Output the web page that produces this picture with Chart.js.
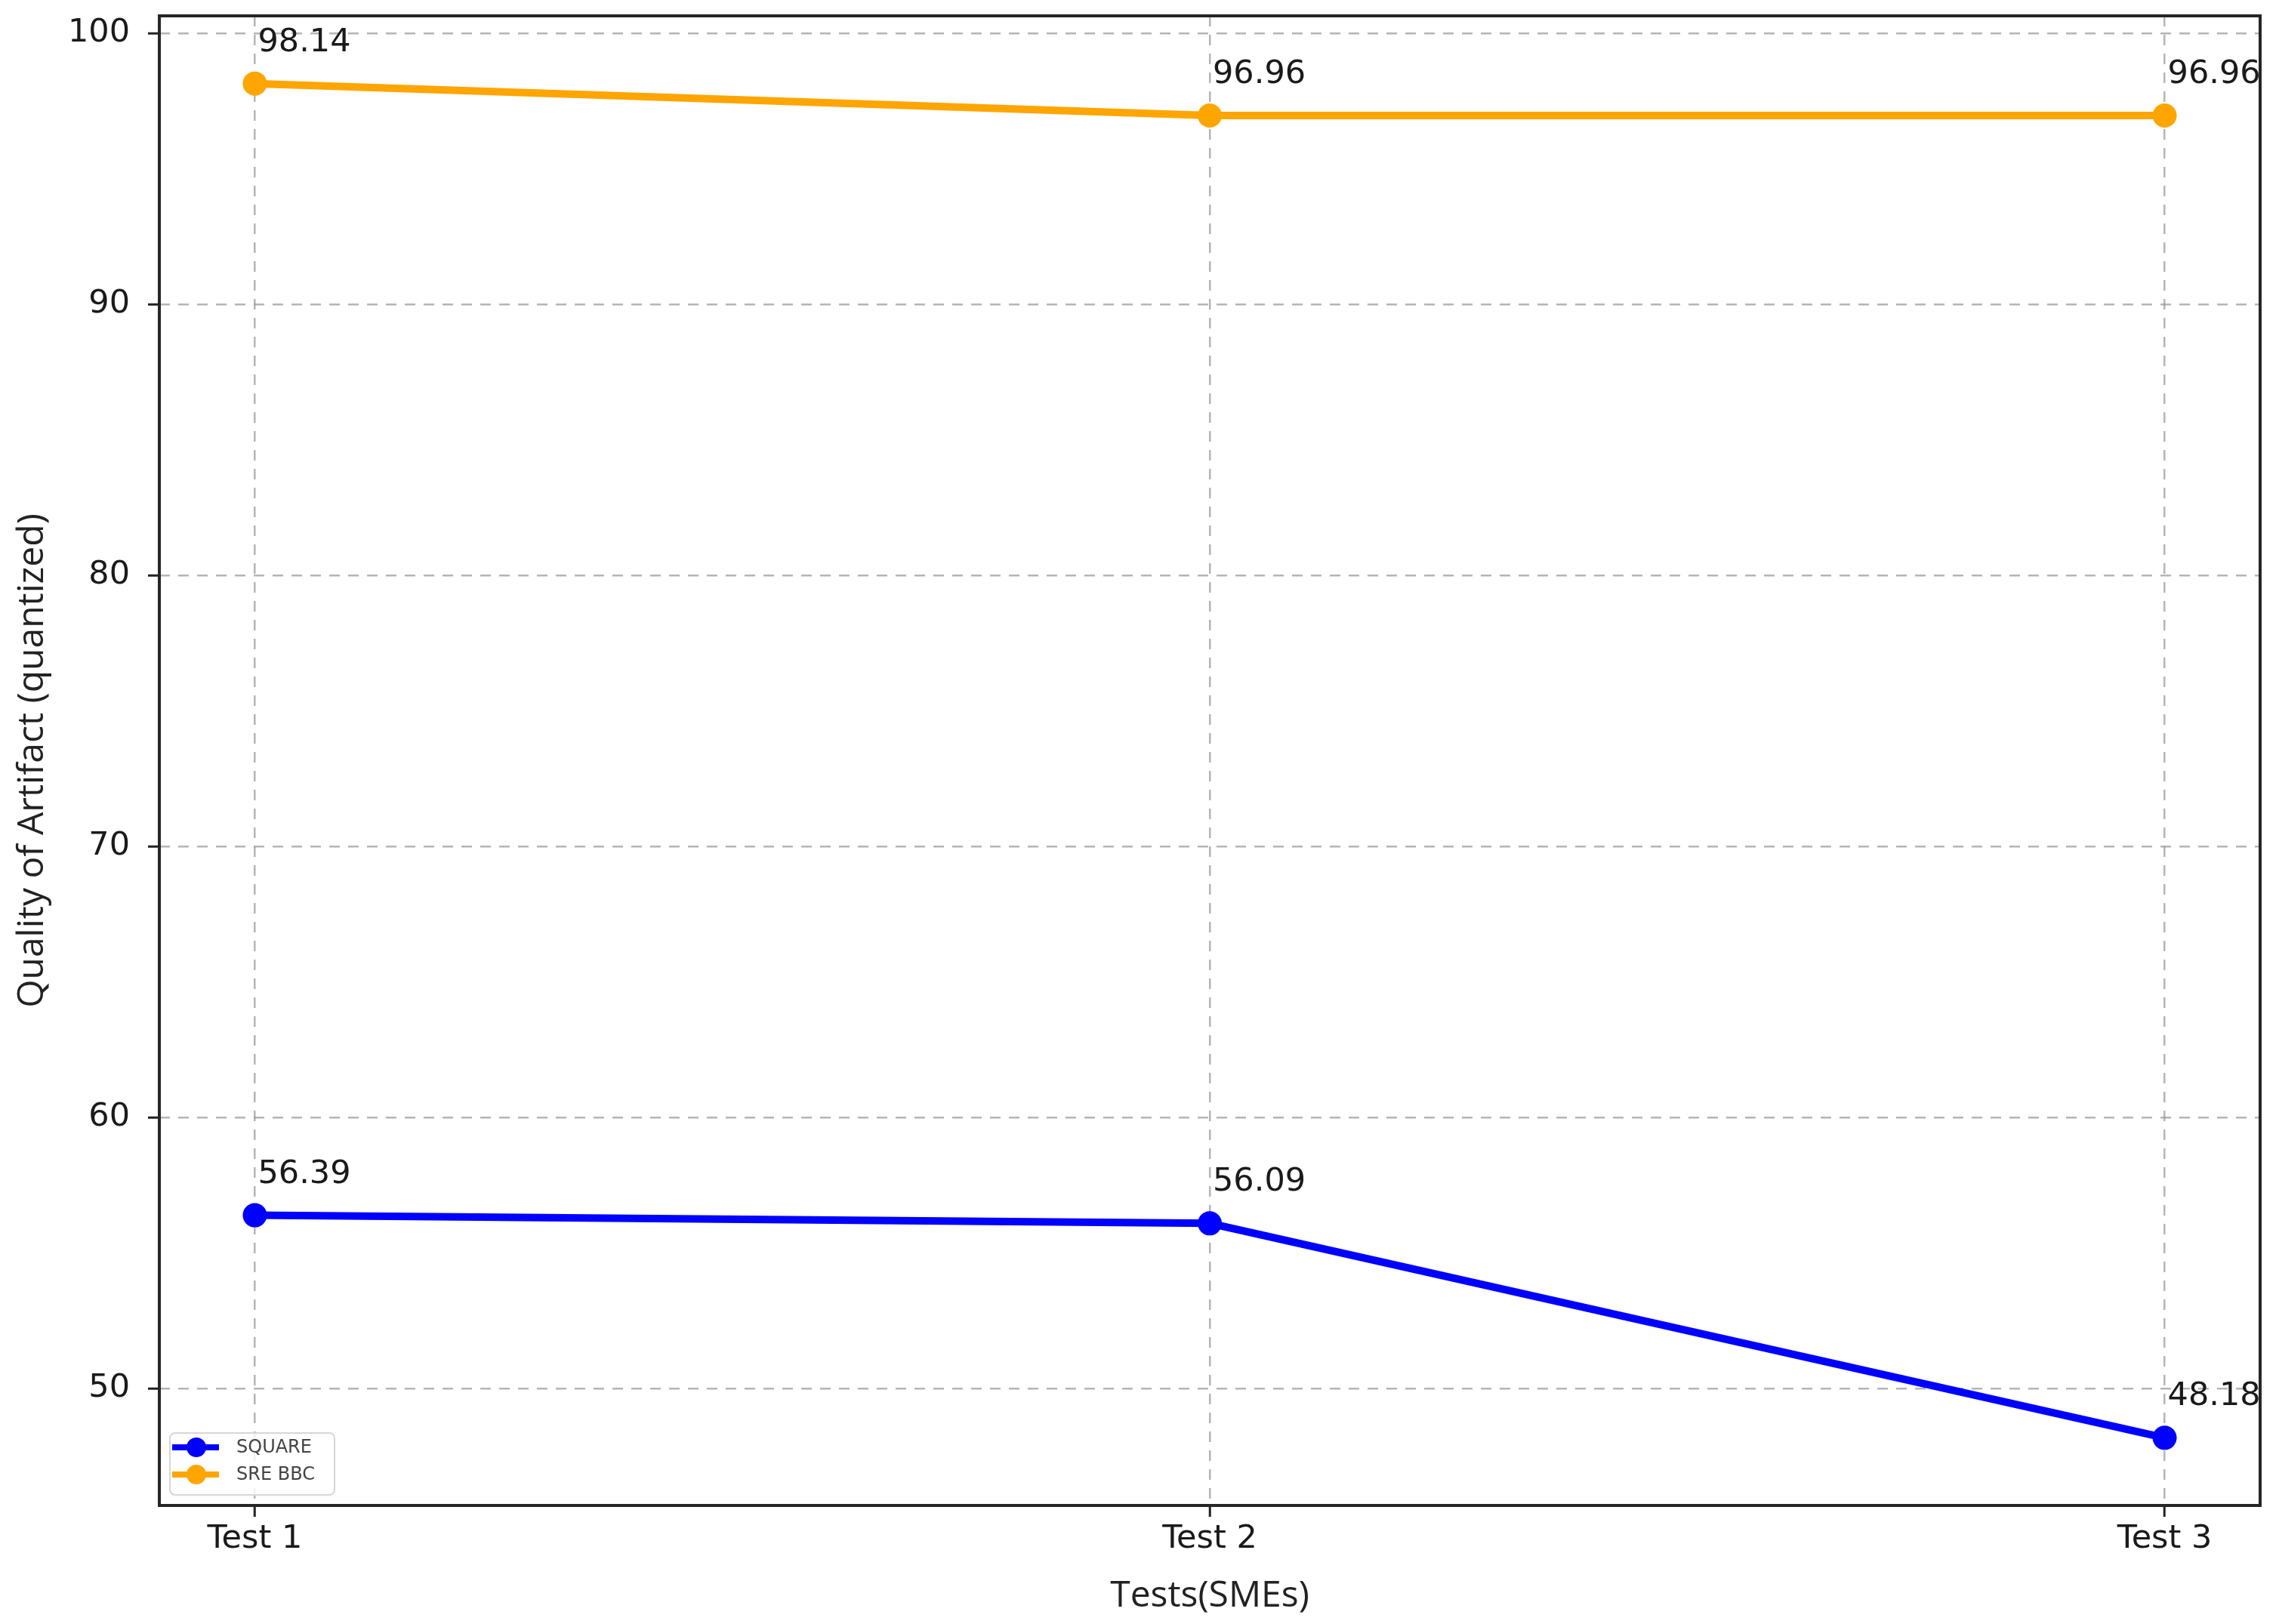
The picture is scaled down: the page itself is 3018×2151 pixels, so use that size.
<!DOCTYPE html>
<html>
<head>
<meta charset="utf-8">
<title>Quality of Artifact</title>
<script src="https://cdn.jsdelivr.net/npm/chart.js@4.4.1/dist/chart.umd.min.js"></script>
<style>
  html, body { margin: 0; padding: 0; background: #fff; }
  canvas { display: block; }
</style>
</head>
<body>
<canvas id="quality" width="3018" height="2151"></canvas>
<script>
// data
var categories = ["Test 1", "Test 2", "Test 3"];
var squareVals = [56.39, 56.09, 48.18];
var sreBbcVals = [98.14, 96.96, 96.96];
var yTicks = [50, 60, 70, 80, 90, 100];
var xTitle = "Tests(SMEs)";
var yTitle = "Quality of Artifact (quantized)";

// matplotlib-style 5% margins around the data
var allVals = squareVals.concat(sreBbcVals);
var lo = Math.min.apply(null, allVals), hi = Math.max.apply(null, allVals);
var pad = (hi - lo) * 0.05;
var xPad = (categories.length - 1) * 0.05;

function toPoints(vals) {
    return vals.map(function (v, i) { return { x: i, y: v }; });
}

var tickFont = { family: "DejaVu Sans", size: 43 };
var titleFont = { family: "Open Sans", size: 48 };
var gridOpts = {
    color: "rgba(150,150,150,0.7)",
    lineWidth: 2.5,
    tickLength: 15,
    tickColor: "#222",
    tickWidth: 3,
    tickBorderDash: [],
};

// value labels above each point
var valueLabels = {
    id: "valueLabels",
    afterDatasetsDraw: function (chart) {
        var ctx = chart.ctx;
        ctx.save();
        ctx.font = "43px 'DejaVu Sans'";
        ctx.fillStyle = "#1a1a1a";
        ctx.textAlign = "left";
        ctx.textBaseline = "alphabetic";
        chart.data.datasets.forEach(function (ds, di) {
            chart.getDatasetMeta(di).data.forEach(function (pt, i) {
                ctx.fillText(ds.data[i].y.toFixed(2), pt.x + 4, pt.y - 43);
            });
        });
        ctx.restore();
    }
};

// box around the plot + small legend in lower left
var frameAndLegend = {
    id: "frameAndLegend",
    afterDraw: function (chart) {
        var ctx = chart.ctx, a = chart.chartArea;
        ctx.save();
        ctx.strokeStyle = "#262626";
        ctx.lineWidth = 4;
        ctx.strokeRect(a.left, a.top, a.right - a.left, a.bottom - a.top);

        var bx = a.left + 14, by = a.bottom - 96, bw = 218, bh = 82;
        ctx.beginPath();
        ctx.roundRect(bx, by, bw, bh, 7);
        ctx.fillStyle = "rgba(255,255,255,0.8)";
        ctx.fill();
        ctx.strokeStyle = "#d6d6d6";
        ctx.lineWidth = 2;
        ctx.stroke();

        ctx.font = "24px 'DejaVu Sans'";
        ctx.textBaseline = "middle";
        chart.data.datasets.forEach(function (ds, i) {
            var cy = by + 19 + i * 36;
            ctx.strokeStyle = ds.borderColor;
            ctx.lineWidth = 8;
            ctx.beginPath();
            ctx.moveTo(bx + 3, cy);
            ctx.lineTo(bx + 65, cy);
            ctx.stroke();
            ctx.fillStyle = ds.borderColor;
            ctx.beginPath();
            ctx.arc(bx + 35, cy, 13, 0, Math.PI * 2);
            ctx.fill();
            ctx.fillStyle = "#444";
            ctx.fillText(ds.label, bx + 88, cy + 1);
        });
        ctx.restore();
    }
};

var ctx = document.getElementById("quality").getContext("2d");
new Chart(ctx, {
    type: "line",
    data: {
        datasets: [
            {
                label: "SQUARE",
                data: toPoints(squareVals),
                borderColor: "#0000ff",
                backgroundColor: "#0000ff",
                borderWidth: 10,
                pointRadius: 16,
                pointHoverRadius: 16,
                pointBorderWidth: 0,
                tension: 0,
            },
            {
                label: "SRE BBC",
                data: toPoints(sreBbcVals),
                borderColor: "#ffa500",
                backgroundColor: "#ffa500",
                borderWidth: 10,
                pointRadius: 16,
                pointHoverRadius: 16,
                pointBorderWidth: 0,
                tension: 0,
            },
        ],
    },
    options: {
        responsive: false,
        devicePixelRatio: 1,
        animation: false,
        layout: { padding: { top: 21, right: 25, left: 0, bottom: 0 } },
        plugins: {
            legend: { display: false },
            tooltip: { enabled: false },
        },
        scales: {
            x: {
                type: "linear",
                min: -xPad,
                max: categories.length - 1 + xPad,
                afterBuildTicks: function (scale) {
                    scale.ticks = categories.map(function (_, i) { return { value: i }; });
                },
                afterFit: function (scale) {
                    scale.height = 157;
                    scale.paddingLeft = 0;
                    scale.paddingRight = 0;
                },
                ticks: {
                    callback: function (value) { return categories[value]; },
                    font: tickFont,
                    color: "#1a1a1a",
                    padding: 4,
                    maxRotation: 0,
                },
                grid: gridOpts,
                border: { display: false, dash: [14, 11] },
                title: {
                    display: true,
                    text: xTitle,
                    font: titleFont,
                    color: "#222",
                    padding: { top: 0, bottom: 8 },
                },
            },
            y: {
                min: lo - pad,
                max: hi + pad,
                afterBuildTicks: function (scale) {
                    scale.ticks = yTicks.map(function (v) { return { value: v }; });
                },
                afterFit: function (scale) {
                    scale.width = 211;
                    scale.paddingTop = 0;
                    scale.paddingBottom = 0;
                },
                ticks: {
                    font: tickFont,
                    color: "#1a1a1a",
                    padding: 24,
                },
                grid: gridOpts,
                border: { display: false, dash: [14, 11] },
                title: {
                    display: true,
                    text: yTitle,
                    font: titleFont,
                    color: "#222",
                    padding: { top: 15, bottom: 0 },
                },
            },
        },
    },
    plugins: [valueLabels, frameAndLegend],
});
</script>
</body>
</html>
